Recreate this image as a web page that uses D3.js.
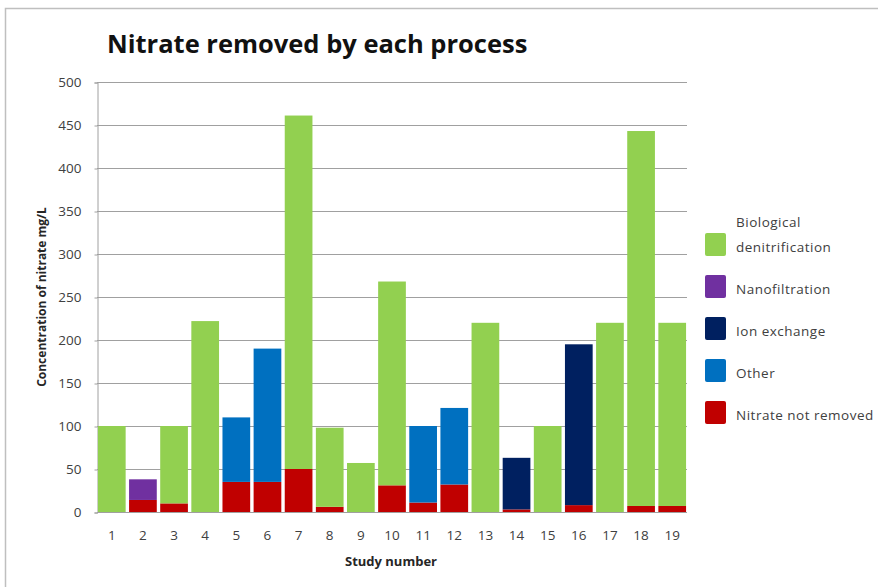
<!DOCTYPE html>
<html><head><meta charset="utf-8">
<script src="https://cdn.jsdelivr.net/npm/d3@7"></script>
<style>body{margin:0;background:#fff;} svg{display:block;}</style>
</head><body>
<svg id="c" width="878" height="587"></svg>
<script>
const studies = ["1","2","3","4","5","6","7","8","9","10","11","12","13","14","15","16","17","18","19"];
const notRemoved   = [0,14,10,0,35,35,50,6,0,31,11,32,0,3,0,8,0,7,7];
const biological   = [100,0,90,222,0,0,411,92,57,237,0,0,220,0,100,0,220,436,213];
const nanofiltration = [0,24,0,0,0,0,0,0,0,0,0,0,0,0,0,0,0,0,0];
const ionExchange  = [0,0,0,0,0,0,0,0,0,0,0,0,0,60,0,187,0,0,0];
const other        = [0,0,0,0,75,155,0,0,0,0,89,89,0,0,0,0,0,0,0];
const yTicks = [0,50,100,150,200,250,300,350,400,450,500];

const series = [
  {key:"notRemoved", name:"Nitrate not removed", color:"#c00000", values:notRemoved},
  {key:"biological", name:"Biological denitrification", color:"#92d050", values:biological},
  {key:"nano", name:"Nanofiltration", color:"#7030a0", values:nanofiltration},
  {key:"ion", name:"Ion exchange", color:"#002060", values:ionExchange},
  {key:"other", name:"Other", color:"#0070c0", values:other}
];
const table = studies.map((s,i)=>{const o={study:s}; series.forEach(se=>o[se.key]=se.values[i]); return o;});
const stack = d3.stack().keys(series.map(s=>s.key))(table);

const svg = d3.select("#c");
const font = "'Open Sans', 'Noto Sans', sans-serif";
// frame
svg.append("path").attr("d","M5.5,587 L5.5,8.5 L878,8.5").attr("fill","none").attr("stroke","#bfbfbf").attr("stroke-width",1.5);

const x = d3.scaleBand().domain(studies).range([97,687]).paddingInner(0.11).paddingOuter(0.03);
const y = d3.scaleLinear().domain([0,500]).range([512,82]);

// grid
svg.append("g").selectAll("line").data(yTicks.filter(d=>d>0)).join("line")
  .attr("x1",97).attr("x2",687).attr("y1",d=>Math.round(y(d))+0.5).attr("y2",d=>Math.round(y(d))+0.5)
  .attr("stroke","#a0a0a0").attr("stroke-width",1);

// y axis
const ya = svg.append("g").attr("transform","translate(97.5,0.5)")
  .call(d3.axisLeft(y).tickValues(yTicks).tickSize(3).tickPadding(13));
ya.select(".domain").attr("stroke","#a0a0a0");
ya.selectAll(".tick line").attr("stroke","#a0a0a0");
ya.selectAll("text").attr("font-family",font).attr("font-size",13.5).attr("fill","#404040");

// bars
svg.append("g").selectAll("g").data(stack).join("g")
  .attr("fill",(d,i)=>series[i].color)
  .selectAll("rect").data(d=>d).join("rect")
  .attr("x",d=>x(d.data.study)).attr("width",x.bandwidth())
  .attr("y",d=>y(d[1])).attr("height",d=>y(d[0])-y(d[1]));

// x axis
const xa = svg.append("g").attr("transform","translate(0,512.5)")
  .call(d3.axisBottom(x).tickSize(0).tickPadding(18));
xa.select(".domain").attr("stroke","#a0a0a0").attr("d","M97,0H687");
xa.selectAll("text").attr("font-family",font).attr("font-size",13.5).attr("fill","#404040");

// titles
svg.append("text").attr("x",107).attr("y",53).attr("font-family",font).attr("font-size",25.5)
  .attr("font-weight",700).attr("fill","#111").text("Nitrate removed by each process");
svg.append("text").attr("x",391).attr("y",566).attr("text-anchor","middle").attr("font-family",font)
  .attr("font-size",13).attr("font-weight",700).attr("fill","#262626").text("Study number");
svg.append("text").attr("transform","translate(46,297) rotate(-90)").attr("text-anchor","middle")
  .attr("font-family",font).attr("font-size",12).attr("font-weight",700).attr("fill","#262626")
  .text("Concentration of nitrate mg/L");

// legend
const legendOrder = [series[1],series[2],series[3],series[4],series[0]];
const lg = svg.append("g");
legendOrder.forEach((s,i)=>{
  const cy = 245 + i*42;
  lg.append("rect").attr("x",705).attr("y",cy-12).attr("width",21).attr("height",23).attr("rx",2).attr("fill",s.color);
  const t = (txt,yy)=>lg.append("text").attr("x",736).attr("y",yy).attr("font-family",font)
    .attr("font-size",13.5).attr("letter-spacing",0.5).attr("fill","#404040").text(txt);
  if (s.key==="biological"){ t("Biological",227); t("denitrification",252); }
  else t(s.name, cy+7);
});
</script>
</body></html>
